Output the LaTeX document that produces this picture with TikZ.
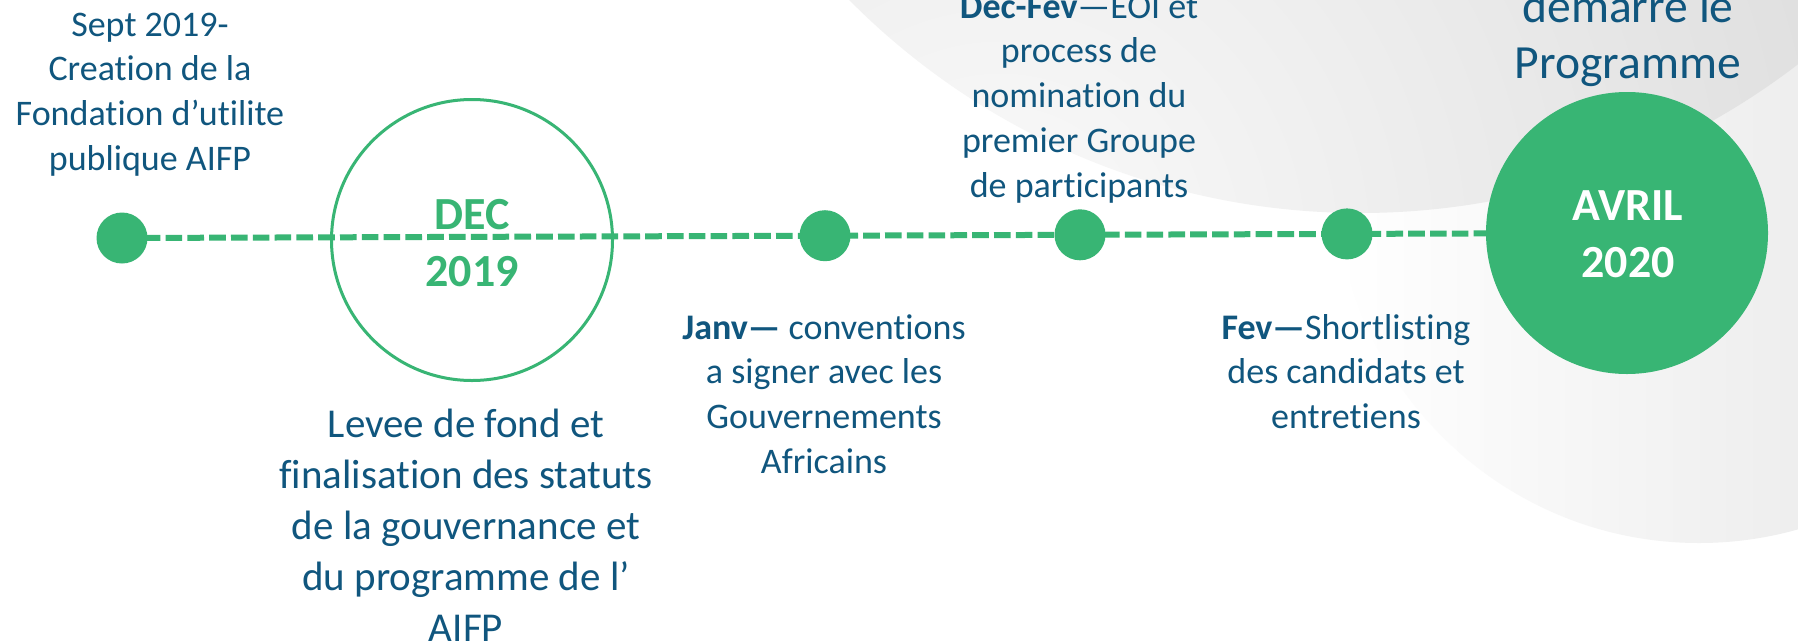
\documentclass[tikz,border=0pt]{standalone}
\usepackage{fontspec}
\setmainfont{Carlito}[Ligatures=NoCommon]
\definecolor{tlgreen}{RGB}{56,181,116}
\definecolor{tlblue}{RGB}{16,86,126}
\definecolor{bgdark}{RGB}{222,222,222}
\definecolor{bglight}{RGB}{250,250,250}
\definecolor{bgmid}{RGB}{228,228,228}
\newcommand{\tlblock}[1]{\begin{tabular}[t]{@{}c@{}}#1\end{tabular}}
\pgfdeclarelayer{back}
\pgfdeclarelayer{mid}
\pgfsetlayers{back,mid,main}
\begin{document}
\begin{tikzpicture}[x=0.5pt,y=-0.5pt,
  tldot/.style={circle, fill=tlgreen, minimum size=25.5pt, inner sep=0pt},
  ring/.style={circle, draw=tlgreen, line width=1.5pt, minimum size=140.5pt, inner sep=0pt},
  bigdot/.style={circle, fill=tlgreen, minimum size=141pt, inner sep=0pt},
  txt/.style={inner sep=0pt, anchor=base, text=tlblue},
  datetxt/.style={inner sep=0pt, anchor=base, font=\bfseries},
  dashline/.style={draw=tlgreen, line width=3pt, dash pattern=on 8.3pt off 2.6pt}
]
\useasboundingbox (0,0) rectangle (1798,643);
\begin{pgfonlayer}{back}
  \clip (0,0) rectangle (1798,643);
  \fill[white] (0,0) rectangle (1798,643);
  % lower halo circle
  \shade[left color=white, right color=bgmid] (1699,180) circle[radius=363];
  % upper large circle
  \begin{scope}
    \clip (1360,-506) circle[radius=719];
    \shade[inner color=bglight, outer color=bgdark] (100,-650) rectangle (1900,1150);
  \end{scope}
\end{pgfonlayer}

\node[tldot] (d1) at (122,238) {};
\node[ring] (dec) at (472,240) {};
\node[tldot] (d2) at (825,235.7) {};
\node[tldot] (d3) at (1080,234.8) {};
\node[tldot] (d4) at (1347,233.9) {};
\node[bigdot] (avril) at (1627,233) {};

\begin{pgfonlayer}{mid}
  \draw[dashline] (d1.center) -- (d2.center) -- (d3.center) -- (d4.center) -- (avril.center);
\end{pgfonlayer}

\node[datetxt, text=tlgreen] (dectxt) at (472,229) {\fontsize{23}{28.5}\selectfont\tlblock{DEC\\2019}};
\node[datetxt, text=white] (avriltxt) at (1628,220) {\fontsize{23}{28.5}\selectfont\tlblock{AVRIL\\2020}};

\node[txt] (sept) at (150,36) {\fontsize{18}{22.4}\selectfont\tlblock{Sept 2019-\\Creation de la\\Fondation d’utilite\\publique AIFP}};
\node[txt] (levee) at (466,437) {\fontsize{20.5}{25.6}\selectfont\tlblock{Levee de fond et\\finalisation des statuts\\de la gouvernance et\\du programme de l’\\AIFP}};
\node[txt] (janv) at (824,339) {\fontsize{18}{22.4}\selectfont\tlblock{{\bfseries Janv—} conventions\\a signer avec les\\Gouvernements\\Africains}};
\node[txt] (decfev) at (1079,18) {\fontsize{18}{22.4}\selectfont\tlblock{{\bfseries Dec-Fev}—EOI et\\process de\\nomination du\\premier Groupe\\de participants}};
\node[txt] (fev) at (1346,339) {\fontsize{18}{22.4}\selectfont\tlblock{{\bfseries Fev—}Shortlisting\\des candidats et\\entretiens}};
\node[txt] (prog) at (1628,22) {\fontsize{23.8}{28.2}\selectfont\tlblock{demarre le\\Programme}};
\end{tikzpicture}
\end{document}
